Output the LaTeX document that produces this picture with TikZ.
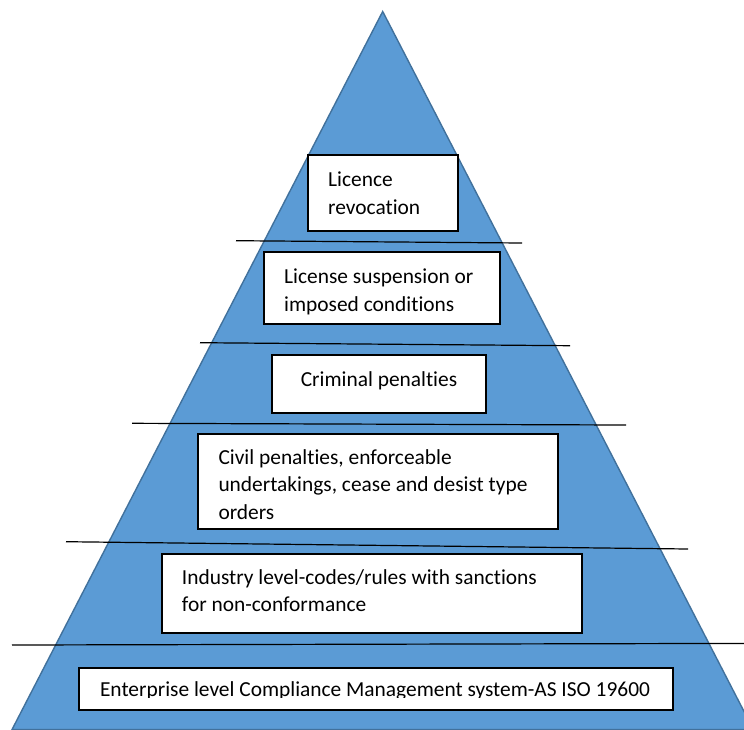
\documentclass[tikz,border=0pt]{standalone}
\usepackage{fontspec}
\setmainfont{Carlito}[Ligatures={NoCommon,NoRare,NoContextual}]
\usetikzlibrary{calc}
\definecolor{pyrfill}{HTML}{5B9BD5}
\definecolor{pyredge}{HTML}{41719C}
\begin{document}
\begin{tikzpicture}[x=1pt,y=-1pt,
  tier/.style={draw=black, line width=1.9pt, fill=white, inner sep=0pt,
    outer sep=0pt, anchor=north west},
  tiertext/.style={inner sep=0pt, align=left,
    font=\fontsize{21.4}{27.7}\selectfont},
  divider/.style={draw=black, line width=1.2pt}]
\useasboundingbox (0,0) rectangle (744,729);
\clip (0,0) rectangle (744,729);

% pyramid body
\coordinate (apex) at (382.7,11.5);
\coordinate (baseL) at (12,729.6);
\coordinate (baseR) at (753.4,729.6);
\filldraw[fill=pyrfill, draw=pyredge, line width=1.4pt]
  (apex) -- (baseR) -- (baseL) -- cycle;

% divider lines between tiers
\coordinate (d1a) at (236,240.7);  \coordinate (d1b) at (522,243);
\coordinate (d2a) at (200,342.7);  \coordinate (d2b) at (570,345.7);
\coordinate (d3a) at (132,423.3);  \coordinate (d3b) at (626,425);
\coordinate (d4a) at (66,541.7);   \coordinate (d4b) at (688,549);
\coordinate (d5a) at (12,645);     \coordinate (d5b) at (744,643.4);
\foreach \i in {1,...,5} \draw[divider] (d\i a) -- (d\i b);

% tier boxes
\node[tier, minimum width=150.3pt, minimum height=75.7pt] (b1) at (307.7,155) {};
\node[tier, minimum width=236pt,   minimum height=72pt]   (b2) at (264,252) {};
\node[tier, minimum width=214pt,   minimum height=58pt]   (b3) at (272,355.3) {};
\node[tier, minimum width=359.7pt, minimum height=95.3pt] (b4) at (198.3,434) {};
\node[tier, minimum width=420pt,   minimum height=79.3pt] (b5) at (162.3,554) {};
\node[tier, minimum width=594pt,   minimum height=42.3pt] (b6) at (79,667.7) {};

% tier labels
\node[tiertext, anchor=north west] (t1) at ($(b1.north west)+(20.3,0)$)
  {\rule{0pt}{31.5pt}Licence\\revocation};
\node[tiertext, anchor=north west] (t2) at ($(b2.north west)+(20,0)$)
  {\rule{0pt}{31.3pt}License suspension or\\imposed conditions};
\node[tiertext, anchor=north] (t3) at (b3.north)
  {\rule{0pt}{30.7pt}Criminal penalties};
\node[tiertext, anchor=north west] (t4) at ($(b4.north west)+(20,0)$)
  {\rule{0pt}{30pt}Civil penalties, enforceable\\undertakings, cease and desist type\\orders};
\node[tiertext, anchor=north west] (t5) at ($(b5.north west)+(19.4,0)$)
  {\rule{0pt}{30pt}Industry level-codes/rules with sanctions\\for non-conformance};
\begin{scope}
  \clip (80,668) rectangle (672,697.8);
  \node[tiertext, anchor=base] (t6) at (375,696.3)
    {Enterprise level Compliance Management system-AS ISO 19600};
\end{scope}
\end{tikzpicture}
\end{document}
